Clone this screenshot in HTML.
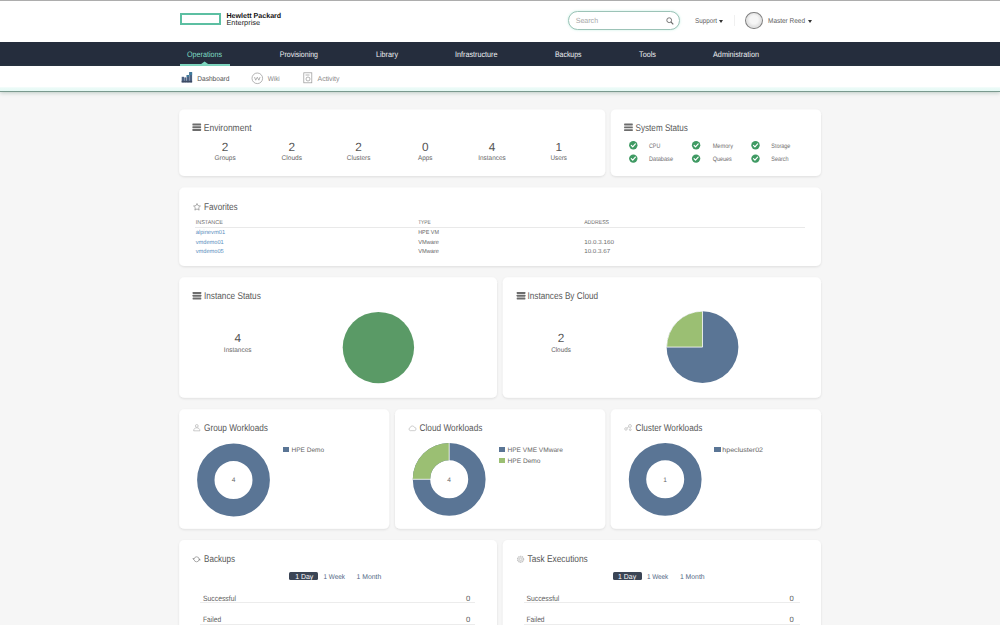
<!DOCTYPE html>
<html><head><meta charset="utf-8">
<style>
*{box-sizing:border-box;margin:0;padding:0}
html,body{width:1000px;height:625px;overflow:hidden;background:#f6f6f6;font-family:"Liberation Sans",sans-serif;color:#333;}
.abs{position:absolute}
.t{position:absolute;white-space:nowrap;line-height:1;transform-origin:0 0}
#top{position:absolute;left:0;top:0;width:1000px;height:42px;background:#fff;border-top:1px solid #adadad}
#nav{position:absolute;left:0;top:42px;width:1000px;height:24px;background:#252d3d}
#sub{position:absolute;left:0;top:66px;width:1000px;height:26px;background:linear-gradient(#fff 0,#fff 20.5px,#ecfbf8 22px,#e5f9f4 25px);border-bottom:1px solid #7b9a8f;box-shadow:0 1px 4px rgba(70,115,95,.32)}
.card{position:absolute;background:#fff;border-radius:5px;box-shadow:0 1px 2px rgba(0,0,0,.09),0 0 2px rgba(0,0,0,.04)}
.ln{position:absolute;height:1px;background:#ececec}
.sq{position:absolute;width:6.2px;height:5px}
svg{position:absolute;overflow:visible}
</style></head><body>
<div id="top"></div>
<!-- logo -->
<div class="abs" style="left:179.5px;top:13.2px;width:41.7px;height:11.7px;border:2px solid #5cbfa2"></div>
<!-- search -->
<div class="abs" style="left:567.8px;top:11px;width:112.4px;height:19px;border:1px solid #9cc3b7;border-radius:10px;background:#fff;box-shadow:0 0 2.5px rgba(110,215,185,.4)"></div>
<svg style="left:665.6px;top:17px" width="9" height="9" viewBox="0 0 9 9"><circle cx="3.2" cy="3.2" r="2.4" fill="none" stroke="#6a6a6a" stroke-width=".9"/><path d="M5 5L7.3 7.3" stroke="#6a6a6a" stroke-width="1.1"/></svg>
<div class="abs" style="left:718.5px;top:19.5px;width:0;height:0;border-left:2.2px solid transparent;border-right:2.2px solid transparent;border-top:3px solid #333"></div>
<div class="abs" style="left:734px;top:15px;width:1px;height:11px;background:#f0f0f0"></div>
<div class="abs" style="left:745.2px;top:12.2px;width:17.6px;height:17.2px;border-radius:50%;border:1px solid #808080;background:radial-gradient(circle at 50% 45%,#f6f6f6 0,#f6f6f6 35%,#e3e3e3 60%,#e8e8e8 100%)"></div>
<div class="abs" style="left:807.5px;top:19.5px;width:0;height:0;border-left:2.2px solid transparent;border-right:2.2px solid transparent;border-top:3px solid #333"></div>

<div id="nav"></div>
<div class="abs" style="left:179.5px;top:64px;width:50.5px;height:2px;background:#7fd9c2"></div>
<svg style="left:0;top:0" width="1000" height="70"><path d="M200.8 64.2L204.6 61.4L208.4 64.2Z" fill="#7fd9c2"/></svg>

<div id="sub"></div>
<svg style="left:0;top:0" width="1000" height="625"><g fill="#4b6182"><rect x="181.7" y="76.8" width="2.3" height="5.6"/><rect x="184.3" y="77.4" width="2.1" height="5"/><rect x="186.7" y="75" width="2.3" height="7.4"/><rect x="189.3" y="72.1" width="2.8" height="10.3"/></g><rect x="189.3" y="72.1" width="2.8" height="3" fill="#3f7b9c"/><rect x="186.7" y="75" width="2.3" height="2" fill="#3f7b9c"/><rect x="181.7" y="80.8" width="10.4" height="1.6" fill="#3d4a63"/></svg>
<svg style="left:251px;top:71.5px" width="13" height="13" viewBox="0 0 13 13"><circle cx="6.3" cy="6.3" r="5.3" fill="none" stroke="#9c9c9c" stroke-width=".75"/><path d="M3.5 5l1.2 3.2 1.6-3 1.6 3L9.1 5" fill="none" stroke="#9c9c9c" stroke-width=".75"/></svg>
<svg style="left:303px;top:72px" width="10" height="12" viewBox="0 0 10 12"><rect x=".8" y=".8" width="8" height="10" fill="none" stroke="#9c9c9c" stroke-width=".75"/><circle cx="5" cy="7" r="2" fill="none" stroke="#9c9c9c" stroke-width=".75"/><path d="M2.5 3h4" stroke="#9c9c9c" stroke-width=".75"/></svg>

<!-- cards -->
<svg style="left:0;top:0" width="1000" height="625"><defs><filter id="sh" x="-5%" y="-5%" width="110%" height="115%"><feDropShadow dx="0" dy="1" stdDeviation="1" flood-color="#000" flood-opacity=".10"/></filter></defs><g fill="#fff" filter="url(#sh)">
<rect x="179.2" y="109.4" width="426" height="66.6" rx="5"/>
<rect x="610.8" y="109.4" width="210.2" height="66.6" rx="5"/>
<rect x="179.2" y="187.5" width="641.8" height="78.5" rx="5"/>
<rect x="179.2" y="277.3" width="317.8" height="120.5" rx="5"/>
<rect x="502.8" y="277.3" width="318.2" height="120.5" rx="5"/>
<rect x="179.2" y="409.3" width="210" height="119.5" rx="5"/>
<rect x="395" y="409.3" width="210.2" height="119.5" rx="5"/>
<rect x="610.8" y="409.3" width="210.2" height="119.5" rx="5"/>
<rect x="179.2" y="540.1" width="317.8" height="120" rx="5"/>
<rect x="502.8" y="540.1" width="318.2" height="120" rx="5"/>
</g></svg>

<!-- stack icons -->
<svg style="left:0;top:0" width="1000" height="625"><g fill="#6c6c6c"><rect x="192.4" y="123.5" width="8.7" height="1.9" rx=".4"/><rect x="192.4" y="126.3" width="8.7" height="1.9" rx=".4"/><rect x="192.4" y="129.1" width="8.7" height="1.9" rx=".4"/><rect x="624.1" y="123.6" width="8.7" height="1.9" rx=".4"/><rect x="624.1" y="126.4" width="8.7" height="1.9" rx=".4"/><rect x="624.1" y="129.2" width="8.7" height="1.9" rx=".4"/><rect x="192.6" y="292.0" width="8.7" height="1.9" rx=".4"/><rect x="192.6" y="294.8" width="8.7" height="1.9" rx=".4"/><rect x="192.6" y="297.6" width="8.7" height="1.9" rx=".4"/><rect x="516.7" y="292.0" width="8.7" height="1.9" rx=".4"/><rect x="516.7" y="294.8" width="8.7" height="1.9" rx=".4"/><rect x="516.7" y="297.6" width="8.7" height="1.9" rx=".4"/></g>
<circle cx="633.3" cy="145.3" r="4.2" fill="#3f9a63"/><path d="M631.3 145.4L632.7 146.9L635.4 143.9" fill="none" stroke="#fff" stroke-width="1.2" stroke-linecap="round" stroke-linejoin="round"/><circle cx="633.3" cy="158.6" r="4.2" fill="#3f9a63"/><path d="M631.3 158.7L632.7 160.2L635.4 157.2" fill="none" stroke="#fff" stroke-width="1.2" stroke-linecap="round" stroke-linejoin="round"/><circle cx="696.1" cy="145.3" r="4.2" fill="#3f9a63"/><path d="M694.1 145.4L695.5 146.9L698.2 143.9" fill="none" stroke="#fff" stroke-width="1.2" stroke-linecap="round" stroke-linejoin="round"/><circle cx="696.1" cy="158.6" r="4.2" fill="#3f9a63"/><path d="M694.1 158.7L695.5 160.2L698.2 157.2" fill="none" stroke="#fff" stroke-width="1.2" stroke-linecap="round" stroke-linejoin="round"/><circle cx="755.5" cy="145.3" r="4.2" fill="#3f9a63"/><path d="M753.5 145.4L754.9 146.9L757.6 143.9" fill="none" stroke="#fff" stroke-width="1.2" stroke-linecap="round" stroke-linejoin="round"/><circle cx="755.5" cy="158.6" r="4.2" fill="#3f9a63"/><path d="M753.5 158.7L754.9 160.2L757.6 157.2" fill="none" stroke="#fff" stroke-width="1.2" stroke-linecap="round" stroke-linejoin="round"/></svg>

<!-- favorites -->
<svg style="left:192.8px;top:203.3px" width="8" height="8" viewBox="0 0 8 8"><path d="M4 0.5l1.05 2.2 2.4 0.33-1.75 1.68 0.43 2.4L4 5.95 1.87 7.1l0.43-2.4L0.55 3.03l2.4-0.33z" fill="none" stroke="#777" stroke-width=".6" stroke-linejoin="round"/></svg>
<div class="ln" style="left:195px;top:226.6px;width:610px;background:#e9e9e9"></div>

<!-- pies -->
<svg style="left:0;top:0" width="1000" height="625">
<circle cx="378.4" cy="347.6" r="35.7" fill="#5a9a66"/>
<circle cx="702.5" cy="347.1" r="35.9" fill="#5a7595"/>
<path d="M702.5 347.1L666.6 347.1A35.9 35.9 0 0 1 702.5 311.2Z" fill="#9bbf73" stroke="#fff" stroke-width=".8"/>
<!-- donuts -->
<circle cx="233.5" cy="480" r="27.7" fill="none" stroke="#5a7595" stroke-width="17.4"/>
<circle cx="449.2" cy="479.3" r="27.7" fill="none" stroke="#5a7595" stroke-width="17.4"/>
<path d="M449.2 451.6A27.7 27.7 0 0 0 421.5 479.3" fill="none" stroke="#9bbf73" stroke-width="17.4"/>
<path d="M449.2 442.5V461M412.8 479.3H431" stroke="#fff" stroke-width=".8"/>
<circle cx="665.2" cy="479.3" r="27.7" fill="none" stroke="#5a7595" stroke-width="17.4"/>
</svg>
<div class="sq" style="left:282.6px;top:447.2px;background:#5a7595"></div>
<div class="sq" style="left:498.5px;top:447.2px;background:#5a7595"></div>
<div class="sq" style="left:498.5px;top:458.1px;background:#9bbf73"></div>
<div class="sq" style="left:714.4px;top:447.2px;background:#5a7595"></div>

<!-- workload icons -->
<svg style="left:193px;top:424.1px" width="7.6" height="7.4" viewBox="0 0 8 8"><circle cx="4" cy="2.1" r="1.5" fill="none" stroke="#a8a8a8" stroke-width=".65"/><path d="M.6 7.4c0-2.2 1.5-3.3 3.4-3.3s3.4 1.1 3.4 3.3z" fill="none" stroke="#a8a8a8" stroke-width=".65"/></svg>
<svg style="left:407.8px;top:424.8px" width="8.6" height="6.4" viewBox="0 0 9 7"><path d="M2.2 6.2a1.7 1.7 0 0 1 0-3.3 2.4 2.4 0 0 1 4.6-.3 1.8 1.8 0 0 1 0 3.6z" fill="none" stroke="#b4b4b4" stroke-width=".7"/></svg>
<svg style="left:624.2px;top:424.2px" width="8.4" height="7.2" viewBox="0 0 9 8"><circle cx="2" cy="5.5" r="1.4" fill="none" stroke="#aaa" stroke-width=".65"/><circle cx="6.5" cy="2.2" r="1.6" fill="none" stroke="#aaa" stroke-width=".65"/><circle cx="6.8" cy="6.3" r="1" fill="none" stroke="#aaa" stroke-width=".65"/><path d="M3 4.6l2.2-1.5" stroke="#aaa" stroke-width=".65"/></svg>
<!-- backups / tasks icons -->
<svg style="left:0;top:0" width="1000" height="625">
<circle cx="196.6" cy="559.3" r="2.5" fill="none" stroke="#8a8a8a" stroke-width=".7" stroke-dasharray="6.6 1.25" stroke-dashoffset="-0.6"/>
<path d="M192.3 558.3h2.6l-1.3 1.7z" fill="#8a8a8a"/><path d="M198.2 560.3h2.6l-1.3-1.7z" fill="#8a8a8a"/>
<circle cx="520.6" cy="559.3" r="3.1" fill="#e4e4e4" stroke="#c2c2c2" stroke-width="1.1" stroke-dasharray="1.3 .65"/>
<circle cx="520.6" cy="559.3" r="1.2" fill="#f4f4f4" stroke="#bdbdbd" stroke-width=".5"/>
</svg>

<div class="abs" style="left:289.2px;top:571.5px;width:28.4px;height:8px;background:#3b4555;border-radius:1.5px"></div>
<div class="abs" style="left:612.9px;top:571.5px;width:28.8px;height:8px;background:#3b4555;border-radius:1.5px"></div>
<div class="ln" style="left:200.4px;top:602.2px;width:275px"></div>
<div class="ln" style="left:200.4px;top:623.7px;width:275px"></div>
<div class="ln" style="left:523.6px;top:602.2px;width:276.4px"></div>
<div class="ln" style="left:523.6px;top:623.7px;width:276.4px"></div>

<svg style="left:0;top:0" width="1000" height="625" font-family="Liberation Sans, sans-serif" text-rendering="geometricPrecision">
<text x="226.4" y="18" font-size="7.2" fill="#111" textLength="54.8" lengthAdjust="spacingAndGlyphs" font-weight="bold">Hewlett Packard</text>
<text x="226.4" y="25" font-size="7.2" fill="#222" textLength="33.8" lengthAdjust="spacingAndGlyphs">Enterprise</text>
<text x="575.7" y="23" font-size="7.4" fill="#a8a8a8" textLength="22.4" lengthAdjust="spacingAndGlyphs">Search</text>
<text x="695.0" y="23" font-size="7.0" fill="#606060" textLength="22.0" lengthAdjust="spacingAndGlyphs">Support</text>
<text x="768.0" y="23" font-size="7.0" fill="#606060" textLength="37.0" lengthAdjust="spacingAndGlyphs">Master Reed</text>
<text x="187.0" y="57" font-size="8.0" fill="#7edcc4" textLength="35.2" lengthAdjust="spacingAndGlyphs">Operations</text>
<text x="279.8" y="57" font-size="8.0" fill="#eef0f3" textLength="38.2" lengthAdjust="spacingAndGlyphs">Provisioning</text>
<text x="376.0" y="57" font-size="8.0" fill="#eef0f3" textLength="22.0" lengthAdjust="spacingAndGlyphs">Library</text>
<text x="455.0" y="57" font-size="8.0" fill="#eef0f3" textLength="42.5" lengthAdjust="spacingAndGlyphs">Infrastructure</text>
<text x="555.0" y="57" font-size="8.0" fill="#eef0f3" textLength="26.5" lengthAdjust="spacingAndGlyphs">Backups</text>
<text x="639.0" y="57" font-size="8.0" fill="#eef0f3" textLength="17.0" lengthAdjust="spacingAndGlyphs">Tools</text>
<text x="713.0" y="57" font-size="8.0" fill="#eef0f3" textLength="46.0" lengthAdjust="spacingAndGlyphs">Administration</text>
<text x="197.2" y="81" font-size="7.0" fill="#505050" textLength="32.3" lengthAdjust="spacingAndGlyphs">Dashboard</text>
<text x="267.7" y="81" font-size="7.0" fill="#858585" textLength="12.1" lengthAdjust="spacingAndGlyphs">Wiki</text>
<text x="317.6" y="81" font-size="7.0" fill="#858585" textLength="21.9" lengthAdjust="spacingAndGlyphs">Activity</text>
<text x="203.8" y="131" font-size="9.8" fill="#585858" textLength="47.7" lengthAdjust="spacingAndGlyphs">Environment</text>
<text x="225.1" y="151" font-size="11.8" fill="#545454" text-anchor="middle">2</text>
<text x="225.1" y="160" font-size="6.8" fill="#666" text-anchor="middle" textLength="21.2" lengthAdjust="spacingAndGlyphs">Groups</text>
<text x="291.8" y="151" font-size="11.8" fill="#545454" text-anchor="middle">2</text>
<text x="291.8" y="160" font-size="6.8" fill="#666" text-anchor="middle" textLength="20.5" lengthAdjust="spacingAndGlyphs">Clouds</text>
<text x="358.6" y="151" font-size="11.8" fill="#545454" text-anchor="middle">2</text>
<text x="358.6" y="160" font-size="6.8" fill="#666" text-anchor="middle" textLength="23.5" lengthAdjust="spacingAndGlyphs">Clusters</text>
<text x="425.3" y="151" font-size="11.8" fill="#545454" text-anchor="middle">0</text>
<text x="425.3" y="160" font-size="6.8" fill="#666" text-anchor="middle" textLength="14.5" lengthAdjust="spacingAndGlyphs">Apps</text>
<text x="492.0" y="151" font-size="11.8" fill="#545454" text-anchor="middle">4</text>
<text x="492.0" y="160" font-size="6.8" fill="#666" text-anchor="middle" textLength="27.5" lengthAdjust="spacingAndGlyphs">Instances</text>
<text x="558.7" y="151" font-size="11.8" fill="#545454" text-anchor="middle">1</text>
<text x="558.7" y="160" font-size="6.8" fill="#666" text-anchor="middle" textLength="16.5" lengthAdjust="spacingAndGlyphs">Users</text>
<text x="635.6" y="131" font-size="9.8" fill="#585858" textLength="52.3" lengthAdjust="spacingAndGlyphs">System Status</text>
<text x="649.0" y="148" font-size="6.4" fill="#6e6e6e" textLength="11.3" lengthAdjust="spacingAndGlyphs">CPU</text>
<text x="712.7" y="148" font-size="6.4" fill="#6e6e6e" textLength="20.3" lengthAdjust="spacingAndGlyphs">Memory</text>
<text x="771.3" y="148" font-size="6.4" fill="#6e6e6e" textLength="19.1" lengthAdjust="spacingAndGlyphs">Storage</text>
<text x="649.0" y="161" font-size="6.4" fill="#6e6e6e" textLength="24.0" lengthAdjust="spacingAndGlyphs">Database</text>
<text x="712.7" y="161" font-size="6.4" fill="#6e6e6e" textLength="19.1" lengthAdjust="spacingAndGlyphs">Queues</text>
<text x="771.3" y="161" font-size="6.4" fill="#6e6e6e" textLength="17.3" lengthAdjust="spacingAndGlyphs">Search</text>
<text x="204.0" y="210" font-size="9.8" fill="#585858" textLength="33.7" lengthAdjust="spacingAndGlyphs">Favorites</text>
<text x="195.7" y="224" font-size="5.6" fill="#707070" textLength="27.1" lengthAdjust="spacingAndGlyphs">INSTANCE</text>
<text x="418.2" y="224" font-size="5.6" fill="#707070" textLength="12.5" lengthAdjust="spacingAndGlyphs">TYPE</text>
<text x="584.2" y="224" font-size="5.6" fill="#707070" textLength="24.8" lengthAdjust="spacingAndGlyphs">ADDRESS</text>
<text x="195.7" y="234" font-size="5.9" fill="#5a8dbd" textLength="29.4" lengthAdjust="spacingAndGlyphs">alpinevm01</text>
<text x="195.7" y="244" font-size="5.9" fill="#5a8dbd" textLength="28.0" lengthAdjust="spacingAndGlyphs">vmdemo01</text>
<text x="195.7" y="253" font-size="5.9" fill="#5a8dbd" textLength="28.0" lengthAdjust="spacingAndGlyphs">vmdemo05</text>
<text x="418.2" y="234" font-size="5.9" fill="#6a6a6a" textLength="20.8" lengthAdjust="spacingAndGlyphs">HPE VM</text>
<text x="418.2" y="244" font-size="5.9" fill="#6a6a6a" textLength="20.8" lengthAdjust="spacingAndGlyphs">VMware</text>
<text x="418.2" y="253" font-size="5.9" fill="#6a6a6a" textLength="20.8" lengthAdjust="spacingAndGlyphs">VMware</text>
<text x="584.2" y="244" font-size="5.9" fill="#6a6a6a" textLength="29.7" lengthAdjust="spacingAndGlyphs">10.0.3.160</text>
<text x="584.2" y="253" font-size="5.9" fill="#6a6a6a" textLength="26.0" lengthAdjust="spacingAndGlyphs">10.0.3.67</text>
<text x="204.0" y="299" font-size="9.8" fill="#585858" textLength="56.8" lengthAdjust="spacingAndGlyphs">Instance Status</text>
<text x="237.7" y="342" font-size="11.8" fill="#545454" text-anchor="middle">4</text>
<text x="237.7" y="352" font-size="6.8" fill="#666" text-anchor="middle" textLength="27.7" lengthAdjust="spacingAndGlyphs">Instances</text>
<text x="527.5" y="299" font-size="9.8" fill="#585858" textLength="70.7" lengthAdjust="spacingAndGlyphs">Instances By Cloud</text>
<text x="561.0" y="342" font-size="11.8" fill="#545454" text-anchor="middle">2</text>
<text x="561.0" y="352" font-size="6.8" fill="#666" text-anchor="middle" textLength="19.7" lengthAdjust="spacingAndGlyphs">Clouds</text>
<text x="204.0" y="431" font-size="9.8" fill="#585858" textLength="64.0" lengthAdjust="spacingAndGlyphs">Group Workloads</text>
<text x="419.5" y="431" font-size="9.8" fill="#585858" textLength="62.9" lengthAdjust="spacingAndGlyphs">Cloud Workloads</text>
<text x="635.5" y="431" font-size="9.8" fill="#585858" textLength="66.9" lengthAdjust="spacingAndGlyphs">Cluster Workloads</text>
<text x="291.5" y="452" font-size="6.6" fill="#666" textLength="32.6" lengthAdjust="spacingAndGlyphs">HPE Demo</text>
<text x="507.5" y="452" font-size="6.6" fill="#666" textLength="55.4" lengthAdjust="spacingAndGlyphs">HPE VME VMware</text>
<text x="507.5" y="463" font-size="6.6" fill="#666" textLength="33.0" lengthAdjust="spacingAndGlyphs">HPE Demo</text>
<text x="722.2" y="452" font-size="6.6" fill="#666" textLength="40.9" lengthAdjust="spacingAndGlyphs">hpecluster02</text>
<text x="233.5" y="482" font-size="6.6" fill="#666" text-anchor="middle">4</text>
<text x="449.2" y="482" font-size="6.6" fill="#666" text-anchor="middle">4</text>
<text x="665.2" y="482" font-size="6.6" fill="#666" text-anchor="middle">1</text>
<text x="204.0" y="562" font-size="9.8" fill="#585858" textLength="31.0" lengthAdjust="spacingAndGlyphs">Backups</text>
<text x="527.5" y="562" font-size="9.8" fill="#585858" textLength="60.3" lengthAdjust="spacingAndGlyphs">Task Executions</text>
<text x="295.2" y="579" font-size="7.3" fill="#ffffff" textLength="18.0" lengthAdjust="spacingAndGlyphs">1 Day</text>
<text x="323.5" y="579" font-size="7.0" fill="#506784" textLength="21.4" lengthAdjust="spacingAndGlyphs">1 Week</text>
<text x="356.5" y="579" font-size="7.0" fill="#506784" textLength="24.7" lengthAdjust="spacingAndGlyphs">1 Month</text>
<text x="203.0" y="601" font-size="7.7" fill="#606060" textLength="33.0" lengthAdjust="spacingAndGlyphs">Successful</text>
<text x="466.0" y="601" font-size="7.7" fill="#606060" textLength="4.3" lengthAdjust="spacingAndGlyphs">0</text>
<text x="203.0" y="622" font-size="7.7" fill="#606060" textLength="18.2" lengthAdjust="spacingAndGlyphs">Failed</text>
<text x="466.0" y="622" font-size="7.7" fill="#606060" textLength="4.3" lengthAdjust="spacingAndGlyphs">0</text>
<text x="618.1" y="579" font-size="7.3" fill="#ffffff" textLength="18.0" lengthAdjust="spacingAndGlyphs">1 Day</text>
<text x="646.9" y="579" font-size="7.0" fill="#506784" textLength="21.4" lengthAdjust="spacingAndGlyphs">1 Week</text>
<text x="679.9" y="579" font-size="7.0" fill="#506784" textLength="24.7" lengthAdjust="spacingAndGlyphs">1 Month</text>
<text x="526.4" y="601" font-size="7.7" fill="#606060" textLength="33.0" lengthAdjust="spacingAndGlyphs">Successful</text>
<text x="789.4" y="601" font-size="7.7" fill="#606060" textLength="4.3" lengthAdjust="spacingAndGlyphs">0</text>
<text x="526.4" y="622" font-size="7.7" fill="#606060" textLength="18.2" lengthAdjust="spacingAndGlyphs">Failed</text>
<text x="789.4" y="622" font-size="7.7" fill="#606060" textLength="4.3" lengthAdjust="spacingAndGlyphs">0</text>
</svg>
</body></html>
